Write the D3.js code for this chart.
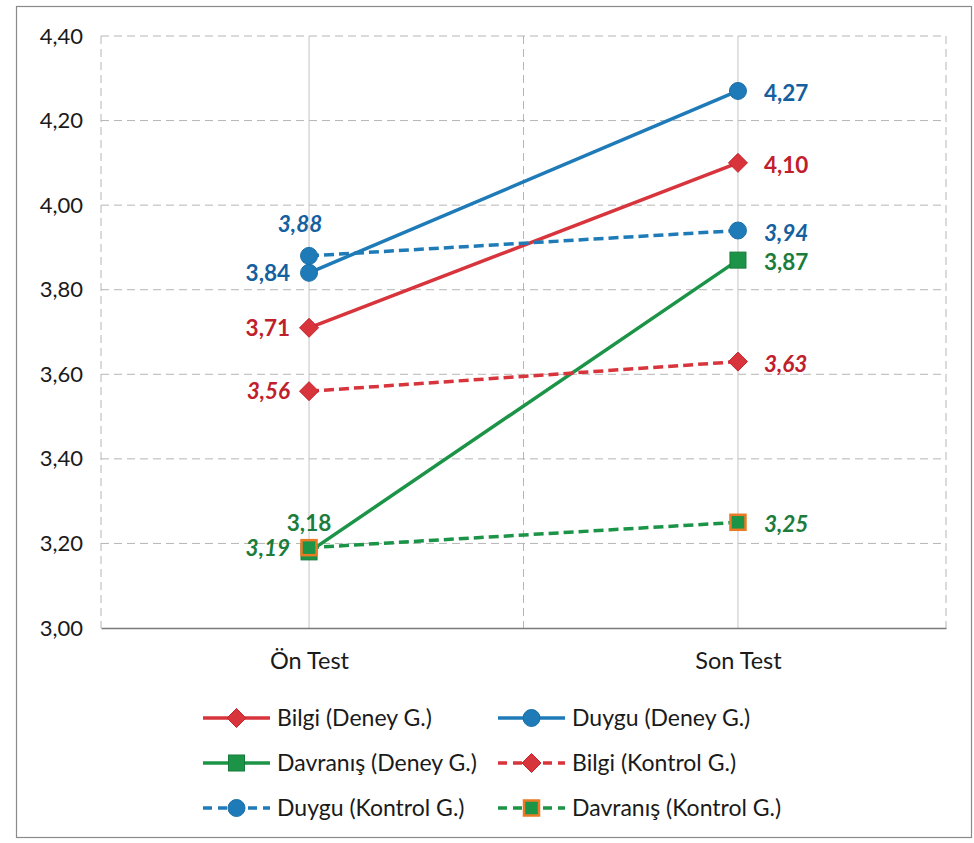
<!DOCTYPE html>
<html><head><meta charset="utf-8">
<script src="https://cdn.jsdelivr.net/npm/d3@7"></script>
<style>body{margin:0;background:#fff}svg{display:block}</style>
</head><body>
<script>
// ---- data ----
const categories = ["Ön Test", "Son Test"];
const seriesNames = ["Bilgi (Deney G.)", "Duygu (Deney G.)", "Davranış (Deney G.)", "Bilgi (Kontrol G.)", "Duygu (Kontrol G.)", "Davranış (Kontrol G.)"];
const bilgiDeney = [3.71, 4.10];
const duyguDeney = [3.84, 4.27];
const davranisDeney = [3.18, 3.87];
const bilgiKontrol = [3.56, 3.63];
const duyguKontrol = [3.88, 3.94];
const davranisKontrol = [3.19, 3.25];
const yTicks = [3.00, 3.20, 3.40, 3.60, 3.80, 4.00, 4.20, 4.40];

// ---- style ----
const RED = "#d8343c", RED_T = "#c0202b";
const BLUE = "#1f7bb8", BLUE_T = "#15609e";
const GREEN = "#1c9447", GREEN_T = "#1b7c3b";
const ORANGE = "#ea7a26";
const series = [
  {name: seriesNames[0], values: bilgiDeney, color: RED, tcolor: RED_T, dash: null, marker: "diamond", italic: false, pos: ["left", "right"]},
  {name: seriesNames[1], values: duyguDeney, color: BLUE, tcolor: BLUE_T, dash: null, marker: "circle", italic: false, pos: ["left", "right"]},
  {name: seriesNames[2], values: davranisDeney, color: GREEN, tcolor: GREEN_T, dash: null, marker: "square", italic: false, pos: ["above", "right"]},
  {name: seriesNames[3], values: bilgiKontrol, color: RED, tcolor: RED_T, dash: "10,5", marker: "diamond", italic: true, pos: ["left", "right"]},
  {name: seriesNames[4], values: duyguKontrol, color: BLUE, tcolor: BLUE_T, dash: "10,5", marker: "circle", italic: true, pos: ["aboveleft", "right"]},
  {name: seriesNames[5], values: davranisKontrol, color: GREEN, tcolor: GREEN_T, dash: "10,5", marker: "squareO", italic: true, pos: ["left", "right"]}
];

const W = 974, H = 843;
const FONT = "Lato, 'Open Sans', sans-serif";
const svg = d3.select("body").append("svg").attr("width", W).attr("height", H)
  .style("font-family", FONT);

// outer border
svg.append("rect").attr("x", 16.5).attr("y", 6.5).attr("width", 955).attr("height", 831)
  .attr("fill", "#fff").attr("stroke", "#8a8a8a").attr("stroke-width", 1.2);

const L = 101, R = 946, T = 36, B = 628;
const x = d3.scalePoint().domain(categories).range([L, R]).padding(0.485);
const y = d3.scaleLinear().domain([3.0, 4.4]).range([B, T]);

// gridlines
const grid = svg.append("g");
yTicks.filter(v => v > 3.0).forEach(v => {
  grid.append("line").attr("x1", L).attr("x2", R).attr("y1", y(v)).attr("y2", y(v))
    .attr("stroke", "#b5b5b5").attr("stroke-width", 1).attr("stroke-dasharray", "8,5");
});
const mid = (x(categories[0]) + x(categories[1])) / 2;
[L, mid, R].forEach(xx => {
  grid.append("line").attr("x1", xx).attr("x2", xx).attr("y1", T).attr("y2", B)
    .attr("stroke", "#b5b5b5").attr("stroke-width", 1).attr("stroke-dasharray", "8,5");
});
categories.forEach(c => {
  grid.append("line").attr("x1", x(c)).attr("x2", x(c)).attr("y1", T).attr("y2", B)
    .attr("stroke", "#c4c4c4").attr("stroke-width", 1);
});

// axes
const yAxis = d3.axisLeft(y).tickValues(yTicks).tickSize(0).tickPadding(18)
  .tickFormat(d => d3.format(".2f")(d).replace(".", ","));
const gy = svg.append("g").attr("transform", `translate(${L},0)`).call(yAxis);
gy.select(".domain").remove();
gy.selectAll("text").attr("font-size", 22).attr("fill", "#1a1a1a").attr("font-family", FONT);

const xAxis = d3.axisBottom(x).tickSize(0).tickPadding(24);
const gx = svg.append("g").attr("transform", `translate(0,${B})`).call(xAxis);
gx.select(".domain").attr("stroke", "#7a7a7a").attr("stroke-width", 1.5);
gx.selectAll("text").attr("font-size", 23.5).attr("fill", "#1a1a1a").attr("font-family", FONT);

// marker drawing
function drawMarker(g, type, cx, cy) {
  if (type === "diamond") {
    const r = 9.5;
    g.append("path").attr("d", `M${cx},${cy - r}L${cx + r},${cy}L${cx},${cy + r}L${cx - r},${cy}Z`)
      .attr("fill", RED).attr("stroke", "#c8232c").attr("stroke-width", 1);
  } else if (type === "circle") {
    g.append("circle").attr("cx", cx).attr("cy", cy).attr("r", 8.5)
      .attr("fill", BLUE).attr("stroke", "#1a6fa8").attr("stroke-width", 1);
  } else if (type === "square") {
    const h = 8;
    g.append("rect").attr("x", cx - h).attr("y", cy - h).attr("width", 2 * h).attr("height", 2 * h)
      .attr("fill", GREEN).attr("stroke", "#177a3a").attr("stroke-width", 1);
  } else if (type === "squareO") {
    const h = 7.5;
    g.append("rect").attr("x", cx - h).attr("y", cy - h).attr("width", 2 * h).attr("height", 2 * h)
      .attr("fill", GREEN).attr("stroke", ORANGE).attr("stroke-width", 2.5);
  }
}

// lines
const line = d3.line().x((d, i) => x(categories[i])).y(d => y(d));
const plot = svg.append("g");
series.forEach(s => {
  plot.append("path").datum(s.values).attr("d", line).attr("fill", "none")
    .attr("stroke", s.color).attr("stroke-width", 3.5)
    .attr("stroke-dasharray", s.dash);
});
series.forEach(s => {
  s.values.forEach((v, i) => drawMarker(plot, s.marker, x(categories[i]), y(v)));
});

// data labels
const labels = svg.append("g");
series.forEach(s => {
  s.values.forEach((v, i) => {
    const cx = x(categories[i]), cy = y(v);
    const p = s.pos[i];
    const t = labels.append("text").text(d3.format(".2f")(v).replace(".", ","))
      .attr("font-size", 22.5).attr("font-weight", "bold").attr("fill", s.tcolor)
      .attr("font-style", s.italic ? "italic" : "normal");
    if (p === "left") {
      t.attr("x", cx - 19).attr("y", cy).attr("dy", "0.36em").attr("text-anchor", "end");
    } else if (p === "right") {
      t.attr("x", cx + 26).attr("y", cy + 2).attr("dy", "0.36em").attr("text-anchor", "start");
    } else if (p === "above") {
      t.attr("x", cx).attr("y", cy - 21).attr("text-anchor", "middle");
    } else if (p === "aboveleft") {
      t.attr("x", cx - 9).attr("y", cy - 24).attr("text-anchor", "middle");
    }
  });
});

// legend
const legend = svg.append("g");
const colX = [203, 498];
const rowY = [718, 763, 808];
series.forEach((s, i) => {
  const col = i % 2, row = Math.floor(i / 2);
  const x0 = colX[col], yy = rowY[row];
  const len = 67;
  const g = legend.append("g");
  g.append("line").attr("x1", x0).attr("x2", x0 + len).attr("y1", yy).attr("y2", yy)
    .attr("stroke", s.color).attr("stroke-width", 3.5).attr("stroke-dasharray", s.dash ? "9,6" : null);
  drawMarker(g, s.marker, x0 + len / 2, yy);
  g.append("text").attr("x", x0 + len + 7).attr("y", yy).attr("dy", "0.35em")
    .attr("font-size", 23).attr("fill", "#1a1a1a").text(s.name);
});
</script>
</body></html>
